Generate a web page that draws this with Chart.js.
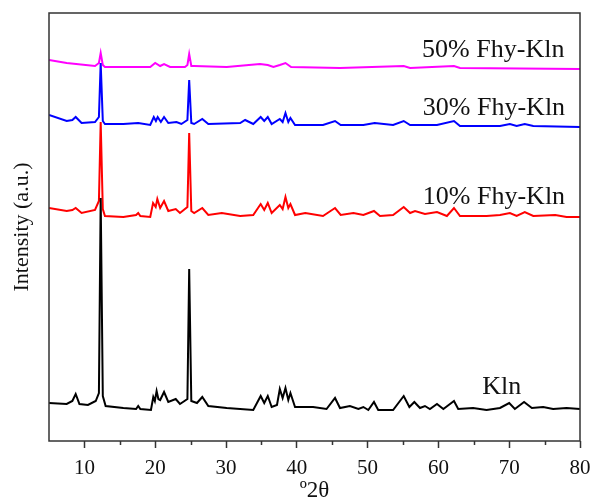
<!DOCTYPE html>
<html>
<head>
<meta charset="utf-8">
<script src="https://cdn.jsdelivr.net/npm/chart.js@4"></script>
<style>
  html, body { margin: 0; padding: 0; background: #fff; }
  canvas { display: block; }
</style>
</head>
<body>
<canvas id="xrd" width="592" height="502"></canvas>
<script>
// XRD patterns, [2theta, intensity a.u.] (curves already stacked)
var klnPattern = [[5,38],[7.5,37],[8.3,40],[8.77,47],[9.3,37],[10.5,36],[11.6,40],[12.05,48],[12.3,243],[12.6,45],[13.0,35],
  [15.5,33],[17.3,32],[17.6,35],[17.9,32],[19.4,31],[19.73,44],[19.95,40],[20.2,50],[20.45,42],[20.7,41],[21.25,49],
  [21.85,39],[22.9,42],[23.5,37],[24.55,42],[24.8,172],[25.1,40],[25.9,38],[26.65,44],[27.5,35],[30.1,33],[33.85,31],
  [34.9,45],[35.4,38],[35.9,45],[36.45,34],[37.2,36],[37.6,52],[38.0,43],[38.4,53],[38.8,41],[39.1,48],[39.75,34],
  [40.9,34],[42.3,34],[44.2,32],[45.4,43],[46.1,33],[47.5,35],[48.7,32],[49.4,34],[50.1,31],[50.9,39],[51.5,31],
  [53.6,31],[55.1,45],[55.9,34],[56.6,39],[57.4,33],[58.1,35],[58.8,32],[59.8,37],[60.7,32],[62.2,40],[62.8,32],
  [64.9,33],[66.8,31],[68.7,33],[70.0,38],[70.8,32],[72.1,39],[73.2,33],[74.8,34],[76.2,32],[78.1,33],[80,32]];

var fhy10Pattern = [[5,233],[7.5,230],[8.3,231],[8.77,233],[9.6,228],[11.5,231],[12.05,240],[12.3,319],[12.6,232],[12.9,225],
  [15.5,224],[17.3,226],[17.6,228],[17.9,225],[19.3,224],[19.7,238],[20.07,234],[20.3,242],[20.7,233],[21.25,240],
  [21.85,230],[22.9,232],[23.5,228],[24.55,234],[24.8,308],[25.1,230],[25.5,228],[26.65,233],[27.5,226],[29.4,228],
  [32.0,225],[33.85,226],[34.9,237],[35.4,231],[35.9,238],[36.45,228],[37.6,236],[38.0,232],[38.4,244],[38.8,233],
  [39.1,237],[39.75,226],[41.2,228],[43.7,225],[45.4,233],[46.2,226],[48.0,228],[49.4,226],[50.9,230],[51.75,225],
  [53.6,226],[55.1,234],[56.0,228],[56.7,230],[58.1,227],[59.8,229],[61.2,225],[62.2,233],[63.05,225],[66.8,225],
  [68.7,226],[70.1,228],[71.05,225],[72.2,229],[73.4,225],[76.5,226],[78.1,224],[80,224]];

var fhy30Pattern = [[5,326],[7.5,320],[8.3,321],[8.77,324],[9.6,318],[11.5,319],[12.05,324],[12.3,378],[12.6,320],[12.9,317],
  [15.5,317],[17.6,318],[19.3,316],[19.8,324],[20.1,320],[20.35,324],[20.8,319],[21.25,324],[21.85,318],[23.0,319],
  [23.7,317],[24.55,321],[24.8,361],[25.1,318],[25.5,317],[26.65,322],[27.5,317],[32.0,318],[32.7,321],[33.85,317],
  [34.9,324],[35.4,320],[35.9,324],[36.45,317],[37.6,322],[38.0,319],[38.4,328],[38.8,319],[39.1,323],[39.75,316],
  [43.7,316],[45.4,320],[46.2,316],[49.4,316],[51.0,318],[53.6,316],[55.1,320],[56.0,316],[59.8,316],[62.2,320],
  [63.05,315],[68.7,315],[70.1,317],[71.05,315],[72.2,317],[73.4,315],[80,314]];

var fhy50Pattern = [[5,381],[7.5,378],[11.5,375],[12.05,378],[12.3,388],[12.6,376],[12.9,374],[19.3,374],[20.0,378],
  [20.7,375],[21.25,377],[22.1,374],[24.2,374],[24.55,376],[24.8,387],[25.1,375],[25.5,375],[30.1,374],[34.8,377],
  [35.9,376],[36.7,374],[37.6,376],[38.4,378],[39.2,374],[46.1,373],[55.1,375],[56.0,373],[62.2,375],[63.05,373],[80,372]];

var seriesNames = ['Kln', '10% Fhy-Kln', '30% Fhy-Kln', '50% Fhy-Kln'];
var seriesColors = ['#000000', '#ff0000', '#0000ff', '#ff00ff'];
var patterns = [klnPattern, fhy10Pattern, fhy30Pattern, fhy50Pattern];

// curve labels: anchor in data units (left edge, baseline)
var labelTheta = [66.2, 57.8, 57.8, 57.7];
var labelIntensity = [47, 237, 326, 384];

var xTicks = [10, 20, 30, 40, 50, 60, 70, 80];

var serif = "'Liberation Serif', 'Times New Roman', serif";

var datasets = patterns.map(function (p, i) {
  return {
    label: seriesNames[i],
    data: p.map(function (d) { return { x: d[0], y: d[1] }; }),
    borderColor: seriesColors[i],
    borderWidth: 2,
    pointRadius: 0,
    tension: 0,
    fill: false
  };
});

var frameAndLabels = {
  id: 'frameAndLabels',
  afterDatasetsDraw: function (chart) {
    var ctx = chart.ctx, a = chart.chartArea;
    var xs = chart.scales.x, ys = chart.scales.y;
    ctx.save();
    ctx.strokeStyle = '#333';
    ctx.lineWidth = 1.5;
    ctx.strokeRect(a.left, a.top, a.right - a.left, a.bottom - a.top);
    // short minor ticks
    ctx.beginPath();
    for (var v = 15; v < 80; v += 10) {
      var px = Math.round(xs.getPixelForValue(v)) + 0.5;
      ctx.moveTo(px, a.bottom);
      ctx.lineTo(px, a.bottom + 4);
    }
    ctx.stroke();
    ctx.fillStyle = '#111';
    ctx.font = '26px ' + serif;
    ctx.textAlign = 'left';
    ctx.textBaseline = 'alphabetic';
    for (var i = 0; i < seriesNames.length; i++) {
      ctx.fillText(seriesNames[i], xs.getPixelForValue(labelTheta[i]), ys.getPixelForValue(labelIntensity[i]));
    }
    ctx.restore();
  }
};

new Chart(document.getElementById('xrd'), {
  type: 'line',
  data: { datasets: datasets },
  plugins: [frameAndLabels],
  options: {
    responsive: false,
    animation: false,
    layout: { padding: { top: 13, right: 12, left: 0, bottom: 0 } },
    plugins: { legend: { display: false }, tooltip: { enabled: false } },
    scales: {
      x: {
        type: 'linear',
        min: 5,
        max: 80,
        afterBuildTicks: function (s) {
          var t = [];
          for (var v = 5; v <= 80; v += 5) t.push({ value: v });
          s.ticks = t;
        },
        afterFit: function (s) { s.height = 61; s.paddingLeft = 0; s.paddingRight = 0; },
        grid: {
          drawOnChartArea: false,
          tickLength: 7,
          tickWidth: 1.5,
          tickColor: function (c) { return xTicks.indexOf(c.tick.value) >= 0 ? '#333' : 'rgba(0,0,0,0)'; }
        },
        border: { display: false },
        ticks: {
          color: '#111',
          font: { family: serif, size: 21 },
          padding: 8,
          maxRotation: 0,
          autoSkip: false,
          callback: function (v) { return xTicks.indexOf(v) >= 0 ? v : ''; }
        },
        title: { display: true, text: 'º2θ', color: '#111', font: { family: serif, size: 23, lineHeight: 1 }, padding: { top: 0, bottom: 0 } }
      },
      y: {
        min: 0,
        max: 428,
        afterFit: function (s) { s.width = 49; },
        grid: { display: false },
        border: { display: false },
        ticks: { display: false },
        title: { display: true, text: 'Intensity (a.u.)', color: '#111', font: { family: serif, size: 22 }, padding: { top: 9, bottom: 0 } }
      }
    }
  }
});
</script>
</body>
</html>
